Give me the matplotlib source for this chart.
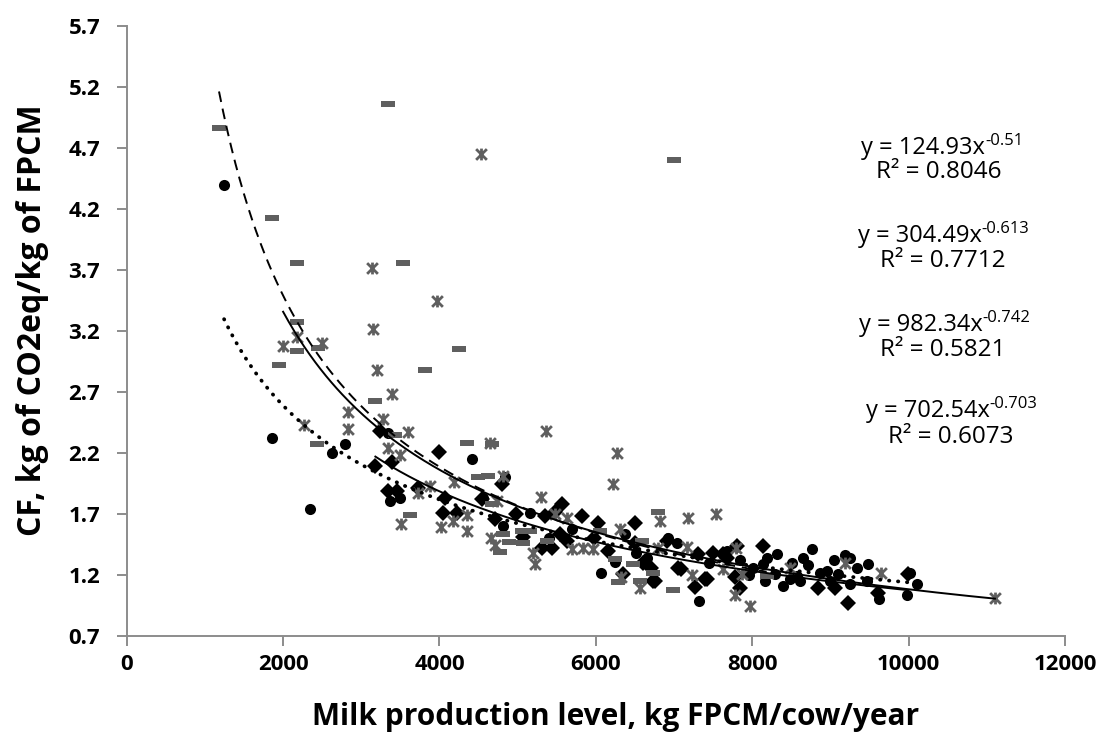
import numpy as np
import matplotlib
matplotlib.use("Agg")
import matplotlib.pyplot as plt
from matplotlib.path import Path

plt.rcParams.update({
    "font.family": ["Open Sans", "DejaVu Sans"],
})

# =========================================================
# Data
# =========================================================
# black circles  -> dotted trend  y = 124.93 x^-0.51
circ_x = [1245, 1860, 2345, 2620, 2795, 3340, 3365, 3495, 4415, 4560, 4840, 4815,
          5155, 5400, 5700, 6065, 6245, 6375, 6520, 6655, 6925, 7040, 7320, 7450,
          7680, 7845, 8015, 8140, 8165, 8185, 8290, 8315, 8395, 8485, 8510, 8570,
          8610, 8650, 8765, 8865, 8955, 8995, 9095, 9185, 9250, 9250, 9340, 9465,
          9480, 9620, 9980, 10015, 10110, 7960, 8720, 9050]
circ_y = [4.40, 2.32, 1.74, 2.20, 2.27, 2.36, 1.81, 1.83, 2.15, 1.83, 2.00, 1.60,
          1.71, 1.50, 1.58, 1.22, 1.31, 1.54, 1.38, 1.34, 1.50, 1.46, 0.99, 1.30,
          1.40, 1.32, 1.26, 1.29, 1.15, 1.34, 1.21, 1.37, 1.11, 1.17, 1.30, 1.19,
          1.15, 1.34, 1.41, 1.22, 1.23, 1.15, 1.21, 1.36, 1.34, 1.13, 1.26, 1.15,
          1.29, 1.00, 1.04, 1.22, 1.13, 1.20, 1.28, 1.32]

# black diamonds -> solid trend  y = 304.49 x^-0.613
diam_x = [3180, 3240, 3390, 3345, 3455, 3725, 3995, 4075, 4050, 4225, 4540, 4710,
          4800, 4980, 5070, 5310, 5350, 5440, 5475, 5540, 5565, 5630, 5820, 6025,
          6345, 6500, 6500, 6710, 6730, 6755, 6905, 7050, 7095, 7270, 7305, 7395,
          7420, 7500, 7630, 7675, 7780, 7805, 7845, 8140, 8845, 9060, 9225, 9610,
          9995, 5980, 6150, 6600]
diam_y = [2.09, 2.38, 2.13, 1.89, 1.89, 1.91, 2.21, 1.83, 1.71, 1.71, 1.82, 1.66,
          1.95, 1.70, 1.51, 1.42, 1.68, 1.42, 1.72, 1.54, 1.78, 1.48, 1.68, 1.63,
          1.21, 1.63, 1.46, 1.26, 1.15, 1.15, 1.48, 1.26, 1.25, 1.10, 1.37, 1.17,
          1.17, 1.38, 1.37, 1.34, 1.18, 1.44, 1.09, 1.44, 1.09, 1.09, 0.97, 1.05,
          1.21, 1.50, 1.40, 1.30]

# grey dashes    -> dashed trend y = 982.34 x^-0.742
dash_x = [1180, 1860, 2180, 3340, 7000, 3535, 2180, 2175, 2445, 1950, 4250, 3820,
          3180, 2435, 3430, 4355, 4670, 4495, 4625, 3625, 4670, 4815, 4890, 4775,
          5055, 5160, 5375, 5070, 6055, 6795, 6590, 6245, 6285, 6730, 6565, 6985,
          6475, 8185]
dash_y = [4.86, 4.13, 3.76, 5.06, 4.60, 3.76, 3.27, 3.04, 3.06, 2.92, 3.05, 2.88,
          2.63, 2.27, 2.35, 2.28, 2.27, 2.00, 2.01, 1.69, 1.78, 1.54, 1.47, 1.39,
          1.56, 1.56, 1.48, 1.46, 1.56, 1.72, 1.48, 1.33, 1.14, 1.22, 1.15, 1.08,
          1.29, 1.19]

# grey asterisks -> solid trend  y = 702.54 x^-0.703
star_x = [2000, 2175, 2495, 2270, 2830, 2830, 3140, 3150, 3200, 3395, 3970, 4525,
          3280, 3600, 3345, 3495, 4645, 5360, 6270, 6220, 4185, 4815, 3880, 3730,
          3510, 4020, 4175, 4355, 4350, 4735, 4660, 4710, 5300, 5225, 5200, 5475,
          5630, 5695, 5835, 5965, 6310, 6320, 6565, 6820, 7180, 7165, 7535, 6795,
          7230, 7795, 8485, 7865, 7780, 7970, 7630, 9185, 9650, 11105]
star_y = [3.08, 3.15, 3.10, 2.43, 2.54, 2.40, 3.72, 3.22, 2.88, 2.68, 3.45, 4.65,
          2.48, 2.37, 2.24, 2.18, 2.28, 2.38, 2.20, 1.95, 1.96, 2.01, 1.93, 1.87,
          1.62, 1.59, 1.64, 1.56, 1.69, 1.81, 1.50, 1.45, 1.84, 1.29, 1.38, 1.70,
          1.67, 1.41, 1.42, 1.41, 1.58, 1.18, 1.09, 1.64, 1.67, 1.43, 1.70, 1.42,
          1.20, 1.42, 1.26, 1.21, 1.04, 0.95, 1.25, 1.30, 1.22, 1.01]

# power trend coefficients: y = a * x^b
fit_a = [124.93, 304.49, 982.34, 702.54]
fit_b = [-0.51, -0.613, -0.742, -0.703]
fit_r2 = ["0.8046", "0.7712", "0.5821", "0.6073"]
eq_b_txt = ["-0.51", "-0.613", "-0.742", "-0.703"]

x_ticks = [0, 2000, 4000, 6000, 8000, 10000, 12000]
y_ticks = [0.7, 1.2, 1.7, 2.2, 2.7, 3.2, 3.7, 4.2, 4.7, 5.2, 5.7]

# =========================================================
# Figure
# =========================================================
GREY = "#5f5f5f"
AXIS = "#8c8c8c"
W, H = 1107, 745

fig = plt.figure(figsize=(W / 100, H / 100), dpi=100)
ax = fig.add_axes([0.1145, 0.1463, 0.8475, 0.8188])

star_marker = Path([(-1, -1), (1, 1), (-1, 1), (1, -1), (0, -1.1), (0, 1.1)],
                   [Path.MOVETO, Path.LINETO, Path.MOVETO, Path.LINETO,
                    Path.MOVETO, Path.LINETO])
dash_marker = Path([(-1, -0.42), (1, -0.42), (1, 0.42), (-1, 0.42), (-1, -0.42)],
                   [Path.MOVETO, Path.LINETO, Path.LINETO, Path.LINETO, Path.CLOSEPOLY])

ax.plot(circ_x, circ_y, "o", color="black", ms=8, mew=0, zorder=2)
ax.plot(diam_x, diam_y, "D", color="black", ms=8.5, mew=0, zorder=3)
ax.plot(dash_x, dash_y, ls="none", marker=dash_marker, color=GREY, ms=9.5, mew=0,
        zorder=4)
ax.plot(star_x, star_y, ls="none", marker=star_marker, color=GREY, ms=8.5,
        mfc="none", mec=GREY, mew=2.0, zorder=5)

# trend lines over each series' range
series_x = [circ_x, diam_x, dash_x, star_x]
styles = [dict(ls=(0, (0.1, 2.3)), lw=2.7, dash_capstyle="round"),
          dict(ls="-", lw=1.4),
          dict(ls=(0, (5.5, 3.5)), lw=1.4),
          dict(ls="-", lw=1.4)]
for xs_data, a, b, st in zip(series_x, fit_a, fit_b, styles):
    xs = np.linspace(min(xs_data), max(xs_data), 400)
    ax.plot(xs, a * xs ** b, color="black", zorder=6, **st)

ax.set_xlim(0, 12000)
ax.set_ylim(0.7, 5.7)
ax.set_xticks(x_ticks)
ax.set_yticks(y_ticks)
ax.set_yticklabels([f"{v:.1f}" for v in y_ticks])

for s in ["top", "right"]:
    ax.spines[s].set_visible(False)
for s in ["left", "bottom"]:
    ax.spines[s].set_color(AXIS)
    ax.spines[s].set_linewidth(1.4)
ax.tick_params(direction="out", length=7, width=1.4, color=AXIS)
ax.tick_params(axis="y", pad=12)
ax.tick_params(axis="x", pad=6)
for lab in ax.get_xticklabels() + ax.get_yticklabels():
    lab.set_fontweight("bold")
    lab.set_fontsize(16)

ax.set_xlabel("Milk production level, kg FPCM/cow/year", fontsize=21.5,
              fontweight="bold")
ax.set_ylabel("CF, kg of CO2eq/kg of FPCM", fontsize=23, fontweight="bold")
ax.xaxis.set_label_coords(0.5215, -0.133)
ax.yaxis.set_label_coords(-0.1, 0.518)
ax.xaxis.label.set_va("center")
ax.yaxis.label.set_va("center")

# equation labels: (eq left px, eq centre y px, R2 left px, R2 centre y px)
eq_pos = [(861, 148, 876, 172), (858, 236, 880, 261),
          (859, 325, 880, 350), (866, 411, 888, 437)]
for (ex, ey, rx, ry), a, bt, r2 in zip(eq_pos, fit_a, eq_b_txt, fit_r2):
    t = fig.text(ex / W, 1 - ey / H, f"y = {a:.2f}x", ha="left",
                 va="center", fontsize=17)
    ax.annotate(bt, xy=(1, 0.8), xycoords=t, ha="left", va="center",
                fontsize=12, annotation_clip=False)
    fig.text(rx / W, 1 - ry / H, f"R² = {r2}", ha="left", va="center",
             fontsize=17.5)

fig.savefig("out.png", dpi=100)
